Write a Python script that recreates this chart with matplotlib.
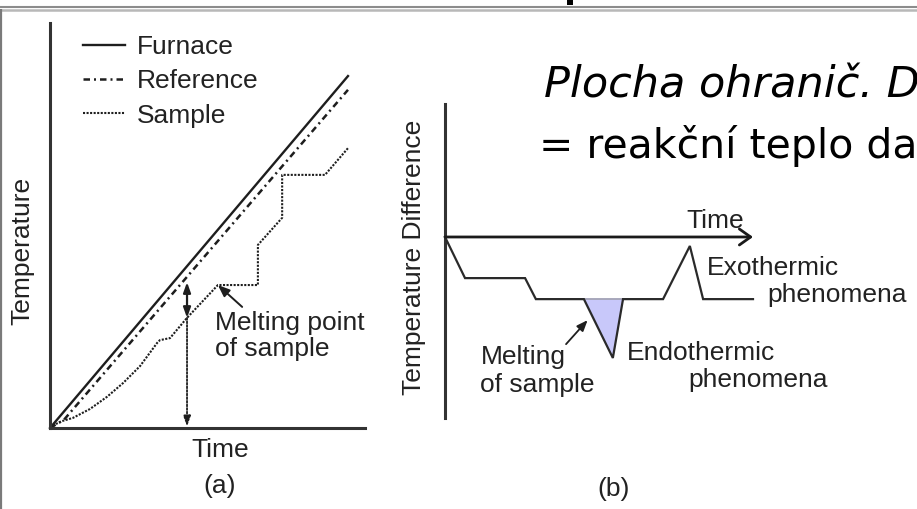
import matplotlib
matplotlib.use('Agg')
import matplotlib.pyplot as plt

W, H, DPI = 917, 509, 100

# ---------------- data ----------------
# Panel (a): temperature vs time (arbitrary units)
furnace_t = [0, 94.6]
furnace_T = [0, 86.9]
reference_t = [0, 4.4, 94.6]
reference_T = [0, 2.0, 83.5]
sample_t = [0, 1.9, 3.8, 7.3, 12.7, 18.1, 23.2, 28.6, 34.0, 34.9, 38.1,
            43.5, 53.3, 66.0, 66.0, 73.7, 73.7, 87.3, 94.6]
sample_T = [0, 1.0, 1.7, 2.5, 4.7, 7.7, 11.1, 15.3, 21.0, 21.7, 22.2,
            27.2, 35.3, 35.3, 45.2, 51.9, 62.5, 62.5, 69.1]
series_labels = ['Furnace', 'Reference', 'Sample']
melt_t = 43.5          # time at which the temperature difference is marked
melt_ref_T = 36.0      # reference temperature at that time
melt_sample_T = 27.2   # sample temperature at that time
melt_point = (53.3, 35.3)

# Panel (b): DTA curve (temperature difference vs time)
dta_t = [0, 6.5, 26.0, 29.5, 45.1, 54.5, 57.8, 70.8, 79.5, 83.8, 100]
dta_dT = [0, -13.7, -13.7, -20.7, -20.7, -40.3, -20.7, -20.7, -3.0, -20.7, -20.7]
endo_t = [45.1, 54.5, 57.8]
endo_dT = [-20.7, -40.3, -20.7]
dta_baseline = -20.7

# ---------------- figure ----------------
fig = plt.figure(figsize=(W / DPI, H / DPI), dpi=DPI)
fig.patch.set_facecolor('white')

bg = fig.add_axes([0, 0, 1, 1])
bg.set_xlim(0, W)
bg.set_ylim(H, 0)
bg.axis('off')

# slide decorations
bg.plot([0, W], [7, 7], color='#8c8c8c', lw=1.5, solid_capstyle='butt')
bg.plot([0, W], [9.5, 9.5], color='#b8b8b8', lw=1.8, solid_capstyle='butt')
bg.plot([1, 1], [9, H], color='#7a7a7a', lw=1.6, solid_capstyle='butt')
bg.plot([569.7, 569.7], [0, 5], color='black', lw=4.3, solid_capstyle='butt')

FONT = 'Liberation Sans'
FS = 19
TC = '#222222'
LC = '#1e1e1e'


def px_axes(x0, x1, ytop, ybot):
    return fig.add_axes([x0 / W, (H - ybot) / H, (x1 - x0) / W, (ybot - ytop) / H])


def txt(x, y, s, **kw):
    kw.setdefault('fontfamily', FONT)
    kw.setdefault('fontsize', FS)
    kw.setdefault('color', TC)
    kw.setdefault('va', 'baseline')
    bg.text(x, y, s, **kw)


# ---------------- panel (a) ----------------
axa = px_axes(50, 365, 23, 428)
axa.set_facecolor('none')
axa.set_xlim(0, 100)
axa.set_ylim(0, 100)
for s in ['top', 'right']:
    axa.spines[s].set_visible(False)
for s in ['left', 'bottom']:
    axa.spines[s].set_color('#333333')
    axa.spines[s].set_linewidth(2.2)
axa.set_xticks([])
axa.set_yticks([])

h1, = axa.plot(furnace_t, furnace_T, color=LC, lw=1.7, clip_on=False,
               label=series_labels[0])
h2, = axa.plot(reference_t, reference_T, color=LC, lw=1.8, clip_on=False,
               linestyle=(0, (2.6, 1.6, 0.8, 1.6)), label=series_labels[1])
h3, = axa.plot(sample_t, sample_T, color=LC, lw=1.5, clip_on=False,
               linestyle=(0, (1, 0.7)), label=series_labels[2])

leg = axa.legend(handles=[h1, h2, h3], loc='upper left',
                 bbox_to_anchor=(83, 35), bbox_transform=bg.transData,
                 frameon=False, borderpad=0, borderaxespad=0,
                 handlelength=1.6, handletextpad=0.45, labelspacing=0.39,
                 prop={'family': FONT, 'size': FS})
for t in leg.get_texts():
    t.set_color(TC)

# temperature-difference marker
axa.annotate('', xy=(melt_t, melt_ref_T), xytext=(melt_t, melt_sample_T),
             arrowprops=dict(arrowstyle='<|-|>,head_length=0.5,head_width=0.18',
                             color=LC, lw=1.6, shrinkA=0, shrinkB=0,
                             mutation_scale=12))
axa.annotate('', xy=(melt_t, 0.4), xytext=(melt_t, melt_sample_T),
             arrowprops=dict(arrowstyle='-|>,head_length=0.5,head_width=0.18',
                             color=LC, lw=1.3, linestyle=(0, (1, 1)),
                             shrinkA=0, shrinkB=0, mutation_scale=12))
axa.annotate('', xy=melt_point, xytext=(61.0, 29.9),
             arrowprops=dict(arrowstyle='-|>,head_length=0.5,head_width=0.2',
                             color=LC, lw=1.4, shrinkA=0, shrinkB=0,
                             mutation_scale=14))

txt(215, 330, 'Melting point')
txt(215, 356, 'of sample')
txt(220, 457, 'Time', ha='center')
txt(220, 493, '(a)', ha='center')
txt(22, 251, 'Temperature', rotation=90, ha='center', va='center',
    rotation_mode='anchor')

# ---------------- panel (b) ----------------
axb = px_axes(445, 753, 104, 418)
axb.set_facecolor('none')
axb.set_xlim(0, 100)
axb.set_ylim(-60.3, 44.3)
for s in ['top', 'right', 'bottom']:
    axb.spines[s].set_visible(False)
axb.spines['left'].set_color('#333333')
axb.spines['left'].set_linewidth(2.2)
axb.set_xticks([])
axb.set_yticks([])

axb.fill_between(endo_t, endo_dT, dta_baseline, color='#c8c8fa', lw=0, zorder=1)
axb.plot([endo_t[0], endo_t[-1]], [dta_baseline, dta_baseline],
         color='#9a9ab0', lw=1.2, zorder=2)
axb.plot(dta_t, dta_dT, color='#2a2a2a', lw=1.6, clip_on=False, zorder=3,
         solid_joinstyle='miter')
axb.annotate('', xy=(100, 0), xytext=(0, 0),
             arrowprops=dict(arrowstyle='->,head_length=0.45,head_width=0.32',
                             color='#1a1a1a', lw=2.0, shrinkA=0, shrinkB=0,
                             mutation_scale=18))
axb.annotate('', xy=(46.3, -27.7), xytext=(39.3, -35.7),
             arrowprops=dict(arrowstyle='-|>,head_length=0.5,head_width=0.2',
                             color=LC, lw=1.3, shrinkA=0, shrinkB=0,
                             mutation_scale=13))

txt(715, 228, 'Time', ha='center')
txt(707, 275, 'Exothermic')
txt(767, 302, 'phenomena')
txt(627, 360, 'Endothermic')
txt(688, 387, 'phenomena')
txt(481, 364, 'Melting')
txt(480, 392, 'of sample')
txt(614, 496, '(b)', ha='center')
txt(414, 257, 'Temperature Difference', rotation=90, ha='center', va='center',
    rotation_mode='anchor')

# ---------------- slide text ----------------
bg.text(544, 97.6, 'Plocha ohranič. D', fontfamily='DejaVu Sans', fontsize=31,
        style='italic', color='black', va='baseline')
bg.text(539, 158, '= reakční teplo dané reakce', fontfamily='DejaVu Sans',
        fontsize=29.5, color='black', va='baseline')

fig.savefig('out.png', dpi=DPI, facecolor='white')
